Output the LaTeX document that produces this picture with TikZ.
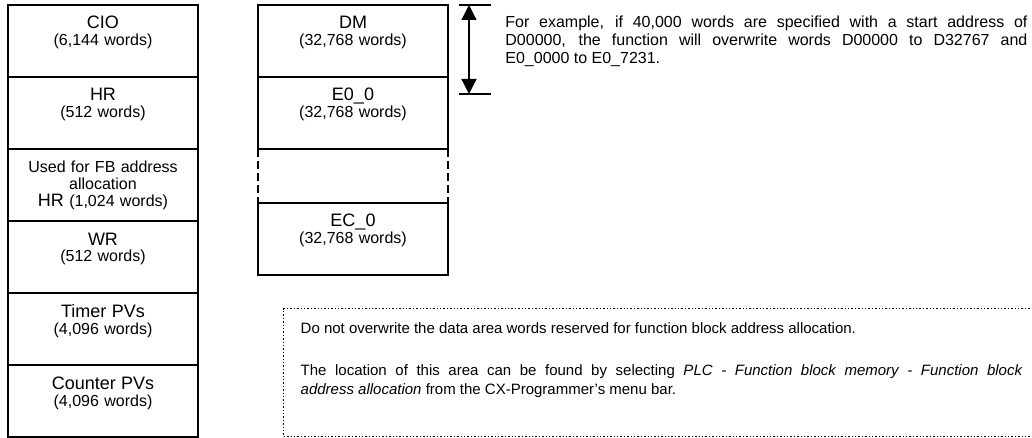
\documentclass[tikz,border=0pt]{standalone}
\usepackage{fontspec}
\setmainfont{Liberation Sans}
\usetikzlibrary{positioning,arrows.meta}
\newcommand{\titlefont}{\fontsize{9}{8.5}\selectfont}
\hyphenpenalty=10000

\begin{document}
\begin{tikzpicture}[
		membox/.style={draw=black, line width=0.6pt, outer sep=0pt, inner sep=0pt, text width=95pt, align=center, text height=12pt, text depth=24pt, font=\fontsize{8}{8.5}\selectfont},
		notebox/.style={draw=black, densely dotted, line width=0.7pt, inner ysep=0pt, inner xsep=8.5pt, text width=361pt, align=justify, text height=12.2pt, text depth=51.8pt, font=\fontsize{7.5}{9.5}\selectfont},
		tick/.style={line width=0.6pt},
		span/.style={line width=0.6pt, {Stealth[inset=0pt,length=7.5pt,width=7.5pt]}-{Stealth[inset=0pt,length=7.5pt,width=7.5pt]}}
	]
		\useasboundingbox (0,0) rectangle (516pt,-219pt);
		
		% left column
		\node[membox, anchor=north west] (cio) at (4pt,-2.5pt) {{\titlefont CIO}\\(6,144 words)};
		\node[membox, below=0pt of cio] (hr) {{\titlefont HR}\\(512 words)};
		\node[membox, below=0pt of hr] (fb) {Used for FB address\\allocation\\{\titlefont HR} (1,024 words)};
		\node[membox, below=0pt of fb] (wr) {{\titlefont WR}\\(512 words)};
		\node[membox, below=0pt of wr] (tim) {{\titlefont Timer PVs}\\(4,096 words)};
		\node[membox, below=0pt of tim] (cnt) {{\titlefont Counter PVs}\\(4,096 words)};
		
		% DM / EM column
		\node[membox, right=30pt of cio.north east, anchor=north west] (dm) {{\titlefont DM}\\(32,768 words)};
		\node[membox, below=0pt of dm] (e0) {{\titlefont E0\_0}\\(32,768 words)};
		\node[membox, below=27pt of e0] (ec) {{\titlefont EC\_0}\\(32,768 words)};
		\draw[line width=0.6pt, dash pattern=on 4pt off 2pt] (e0.south west)--(ec.north west);
		\draw[line width=0.6pt, dash pattern=on 4pt off 2pt] (e0.south east)--(ec.north east);
		
		% range of 40,000 words
		\coordinate (ta) at ([xshift=5.5pt]dm.north east);
		\coordinate (tb) at ([xshift=21.5pt]dm.north east);
		\coordinate (ba) at ([yshift=-44.5pt]ta);
		\coordinate (bb) at ([yshift=-44.5pt]tb);
		\draw[tick] (ta)--(tb);
		\draw[tick] (ba)--(bb);
		\draw[span] ([xshift=5pt]ta)--([xshift=5pt]ba);
		
		\node[anchor=north west, inner sep=0pt, text width=261pt, align=justify, font=\fontsize{8}{9}\selectfont] (ex) at ([xshift=28.5pt,yshift=-5.5pt]dm.north east) {For example, if 40,000 words are specified with a start address of\linebreak D00000, the function will overwrite words D00000 to D32767 and\linebreak E0\_0000 to E0\_7231.};
		
		\node[notebox, anchor=north west] (note) at (141.5pt,-154pt) {Do not overwrite the data area words reserved for function block address allocation.\\[11.5pt]The location of this area can be found by selecting \textit{PLC - Function block memory - Function block}\linebreak\textit{address allocation} from the CX-Programmer's menu bar.};
	\end{tikzpicture}
\end{document}
